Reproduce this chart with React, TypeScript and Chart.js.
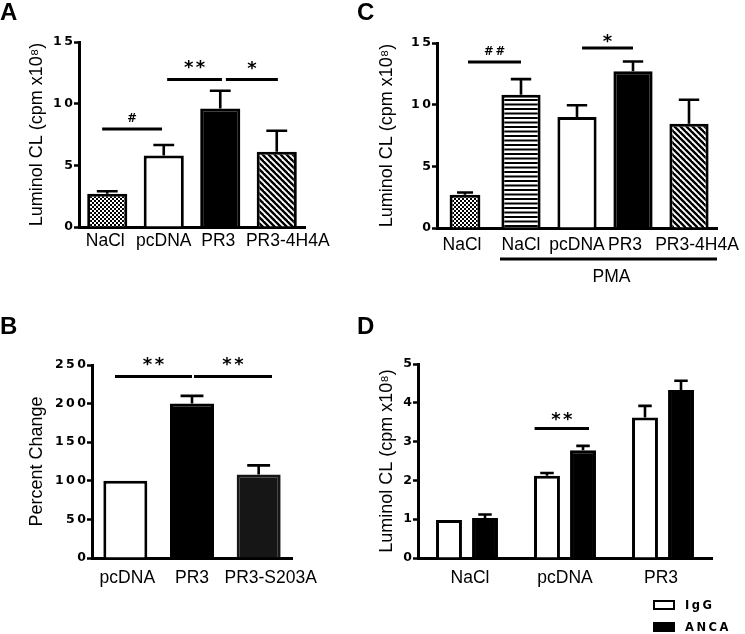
import React, { useEffect, useRef } from 'react';
import { Chart, registerables, LinearScale, CategoryScale } from 'chart.js';

Chart.register(...registerables);

class SpacedLinearScale extends LinearScale {
  static id = 'spacedLinear';
  static defaults = LinearScale.defaults;
  drawLabels(chartArea: any) {
    const ctx: any = (this as any).ctx;
    ctx.save();
    ctx.letterSpacing = '2.5px';
    // @ts-ignore
    super.drawLabels(chartArea);
    ctx.restore();
  }
}

class ShiftedCategoryScale extends CategoryScale {
  static id = 'shiftedCategory';
  static defaults = CategoryScale.defaults;
  _computeLabelItems(chartArea: any) {
    // @ts-ignore
    const items = super._computeLabelItems(chartArea);
    const shifts: number[] = (this as any).$labelShifts || [];
    items.forEach((it: any, i: number) => {
      const s = shifts[i] || 0;
      if (!s) return;
      if (it.options && Array.isArray(it.options.translation)) it.options.translation[0] += s;
    });
    return items;
  }
}
Chart.register(SpacedLinearScale as any, ShiftedCategoryScale as any);

const SANS = "'Liberation Sans', Arial, Helvetica, sans-serif";
const WIDE = "'DejaVu Sans', Verdana, sans-serif";
Chart.defaults.font.family = SANS;
Chart.defaults.color = '#000';

// ---------- Panel A ----------
const aCategories = ['NaCl', 'pcDNA', 'PR3', 'PR3-4H4A'];
const aValues = [2.7, 5.8, 9.6, 6.1];
const aErrors = [0.2, 0.85, 1.45, 1.7];
const aSigFrom = [-0.09, 1.06, 2.1];
const aSigTo = [0.97, 2.03, 3.02];
const aSigLevel = [7.95, 11.95, 11.95];
const aSigText = ['#', '**', '*'];

// ---------- Panel B ----------
const bCategories = ['pcDNA', 'PR3', 'PR3-S203A'];
const bValues = [100, 200, 108];
const bErrors = [0, 10, 12];
const bSigFrom = [-0.155, 1.03];
const bSigTo = [1.0, 2.2];
const bSigLevel = [235, 235];
const bSigText = ['**', '**'];

// ---------- Panel C ----------
const cCategories = ['NaCl', 'NaCl', 'pcDNA', 'PR3', 'PR3-4H4A'];
const cValues = [2.7, 10.8, 9.0, 12.7, 8.45];
const cErrors = [0.18, 1.27, 0.95, 0.8, 1.95];
const cSigFrom = [0.054, 2.09];
const cSigTo = [1.0, 3.0];
const cSigLevel = [13.46, 14.6];
const cSigText = ['##', '*'];
const cGroupLabel = 'PMA';
const cGroupFrom = 0.625;
const cGroupTo = 4.5;

// ---------- Panel D ----------
const dCategories = ['NaCl', 'pcDNA', 'PR3'];
const dSeriesNames = ['IgG', 'ANCA'];
const dIgG = [0.98, 2.12, 3.62];
const dIgGErr = [0, 0.07, 0.3];
const dAnca = [1.03, 2.78, 4.33];
const dAncaErr = [0.09, 0.11, 0.24];
const dSigFrom = [0.69];
const dSigTo = [1.245];
const dSigLevel = [3.34];
const dSigText = ['**'];

const Y_TITLE_CL = 'Luminol CL (cpm x10\u2078)';

function makeFill(kind: string): any {
  if (kind === 'white') return '#ffffff';
  if (kind === 'black') return '#000000';
  if (kind === 'dark') return '#161616';
  const c = document.createElement('canvas');
  const g = c.getContext('2d')!;
  if (kind === 'checker') {
    c.width = 4; c.height = 4;
    g.fillStyle = '#000'; g.fillRect(0, 0, 4, 4);
    g.fillStyle = '#fff'; g.fillRect(0, 0, 2, 2); g.fillRect(2, 2, 2, 2);
  } else if (kind === 'hstripe') {
    c.width = 4; c.height = 9;
    g.fillStyle = '#fff'; g.fillRect(0, 0, 4, 9);
    g.fillStyle = '#000'; g.fillRect(0, 0, 4, 2); g.fillRect(0, 4.5, 4, 2);
  } else if (kind === 'diag') {
    c.width = 6; c.height = 6;
    g.fillStyle = '#fff'; g.fillRect(0, 0, 6, 6);
    g.strokeStyle = '#000'; g.lineWidth = 2.4;
    for (const k of [-6, 0, 6]) {
      g.beginPath(); g.moveTo(-2, -2 + k); g.lineTo(8, 8 + k); g.stroke();
    }
  }
  return g.createPattern(c, 'repeat');
}

const errorBarPlugin = {
  id: 'errorBars',
  afterDatasetsDraw(chart: any, _a: any, opts: any) {
    const errs = opts && opts.errors;
    if (!errs) return;
    const ctx = chart.ctx;
    const ys = chart.scales.y;
    ctx.save();
    ctx.strokeStyle = '#000';
    ctx.lineWidth = 2.6;
    chart.data.datasets.forEach((ds: any, di: number) => {
      const e = errs[di];
      if (!e) return;
      const meta = chart.getDatasetMeta(di);
      meta.data.forEach((bar: any, i: number) => {
        const v = ds.data[i];
        if (v == null || !e[i]) return;
        const p = bar.getProps(['x', 'y', 'width'], true);
        const yt = ys.getPixelForValue(v + e[i]);
        const cap = p.width * 0.26;
        ctx.beginPath();
        ctx.moveTo(p.x, p.y);
        ctx.lineTo(p.x, yt);
        ctx.moveTo(p.x - cap, yt);
        ctx.lineTo(p.x + cap, yt);
        ctx.stroke();
      });
    });
    ctx.restore();
  },
};

const sigPlugin = {
  id: 'sig',
  afterDraw(chart: any, _a: any, opts: any) {
    const ctx = chart.ctx;
    const xs = chart.scales.x;
    const ys = chart.scales.y;
    ctx.save();
    ctx.strokeStyle = '#000';
    ctx.fillStyle = '#000';
    const br = (opts && opts.brackets) || [];
    for (const b of br) {
      const x1 = xs.getPixelForValue(b.from);
      const x2 = xs.getPixelForValue(b.to);
      const yy = ys.getPixelForValue(b.level);
      ctx.lineWidth = 3;
      ctx.beginPath(); ctx.moveTo(x1, yy); ctx.lineTo(x2, yy); ctx.stroke();
      const isStar = b.text.indexOf('*') >= 0;
      ctx.font = isStar ? `bold 18px ${WIDE}` : `bold 11.5px ${WIDE}`;
      const sp = isStar ? 2.5 : 2;
      ctx.letterSpacing = `${sp}px`;
      ctx.textAlign = 'center';
      ctx.textBaseline = 'alphabetic';
      const m = ctx.measureText(b.text);
      const cy = yy - b.dy;
      const base = cy + (m.actualBoundingBoxAscent - m.actualBoundingBoxDescent) / 2;
      ctx.fillText(b.text, (x1 + x2) / 2 + sp / 2, base);
      ctx.letterSpacing = '0px';
    }
    const g = opts && opts.group;
    if (g) {
      const x1 = xs.getPixelForValue(g.from);
      const x2 = xs.getPixelForValue(g.to);
      const yy = chart.chartArea.bottom + 31;
      ctx.lineWidth = 3;
      ctx.beginPath(); ctx.moveTo(x1, yy); ctx.lineTo(x2, yy); ctx.stroke();
      ctx.font = `17.5px ${SANS}`;
      ctx.textAlign = 'center';
      ctx.textBaseline = 'middle';
      ctx.fillText(g.text, (x1 + x2) / 2 + 3, yy + 18);
    }
    ctx.restore();
  },
};

function brackets(from: number[], to: number[], level: number[], text: string[], dy: number[]) {
  return from.map((f, i) => ({ from: f, to: to[i], level: level[i], text: text[i], dy: dy[i] }));
}

function buildChart(canvas: HTMLCanvasElement, cfg: any) {
  return new Chart(canvas, {
    type: 'bar',
    data: { labels: cfg.labels, datasets: cfg.datasets },
    plugins: [errorBarPlugin, sigPlugin],
    options: {
      responsive: false,
      animation: false,
      events: [],
      layout: { padding: { top: cfg.padTop, right: cfg.padRight, left: 0, bottom: 0 } },
      plugins: {
        legend: { display: false },
        tooltip: { enabled: false },
        errorBars: { errors: cfg.errors },
        sig: { brackets: cfg.brackets, group: cfg.group },
      },
      scales: {
        x: {
          type: 'shiftedCategory',
          offset: true,
          grid: { display: false, drawTicks: false },
          border: { display: true, color: '#000', width: 3 },
          ticks: {
            color: '#000',
            font: { size: 17.5, family: SANS },
            padding: cfg.xPad,
            maxRotation: 0,
            minRotation: 0,
            autoSkip: false,
          },
          afterFit: (s: any) => { s.height = cfg.xHeight; s.$labelShifts = cfg.labelShifts; },
        },
        y: {
          type: 'spacedLinear',
          min: 0,
          max: cfg.yMax,
          grid: {
            drawOnChartArea: false,
            drawTicks: true,
            tickLength: 5,
            tickWidth: 2.5,
            tickColor: '#000',
            color: '#000',
          },
          border: { display: true, color: '#000', width: 3 },
          ticks: {
            stepSize: cfg.yStep,
            color: '#000',
            font: { size: 12.5, weight: 'bold', family: WIDE },
            padding: -1.5,
          },
          title: {
            display: true,
            text: cfg.title,
            color: '#000',
            font: { size: 18, family: SANS },
            padding: { top: 26, bottom: 0 },
          },
          afterFit: (s: any) => { s.width = cfg.yWidth; },
        },
      },
    } as any,
  });
}

function chartA(canvas: HTMLCanvasElement) {
  const fills = ['checker', 'white', 'black', 'diag'].map(makeFill);
  return buildChart(canvas, {
    labels: aCategories,
    datasets: [{
      data: aValues,
      backgroundColor: fills,
      borderColor: '#000',
      borderWidth: 3,
      barPercentage: 0.71,
      categoryPercentage: 1,
    }],
    errors: [aErrors],
    brackets: brackets(aSigFrom, aSigTo, aSigLevel, aSigText, [11.5, 15, 14]),
    labelShifts: [-2, 0, -2, 11],
    yMax: 15, yStep: 5, title: Y_TITLE_CL,
    yWidth: 79, xHeight: 73, padTop: 42, padRight: 40, xPad: 4,
  });
}

function chartB(canvas: HTMLCanvasElement) {
  const fills = ['white', 'black', 'dark'].map(makeFill);
  return buildChart(canvas, {
    labels: bCategories,
    datasets: [{
      data: bValues,
      backgroundColor: fills,
      borderColor: ['#000', '#000', '#161616'],
      borderWidth: 3,
      barPercentage: 0.66,
      categoryPercentage: 1,
    }],
    errors: [bErrors],
    brackets: brackets(bSigFrom, bSigTo, bSigLevel, bSigText, [15, 15]),
    labelShifts: [2, 0, 12],
    yMax: 250, yStep: 50, title: 'Percent Change',
    yWidth: 92, xHeight: 76, padTop: 65, padRight: 53, xPad: 9.5,
  });
}

function chartC(canvas: HTMLCanvasElement) {
  const fills = ['checker', 'hstripe', 'white', 'black', 'diag'].map(makeFill);
  const first = cValues.map((v, i) => (i === 0 ? v : null));
  const rest = cValues.map((v, i) => (i === 0 ? null : v));
  return buildChart(canvas, {
    labels: cCategories,
    datasets: [
      {
        data: first,
        backgroundColor: fills,
        borderColor: '#000',
        borderWidth: 3,
        barPercentage: 0.55,
        categoryPercentage: 1,
        grouped: false,
      },
      {
        data: rest,
        backgroundColor: fills,
        borderColor: '#000',
        borderWidth: 3,
        barPercentage: 0.7,
        categoryPercentage: 1,
        grouped: false,
      },
    ],
    errors: [
      cErrors.map((e, i) => (i === 0 ? e : 0)),
      cErrors.map((e, i) => (i === 0 ? 0 : e)),
    ],
    brackets: brackets(cSigFrom, cSigTo, cSigLevel, cSigText, [11, 9]),
    group: { from: cGroupFrom, to: cGroupTo, text: cGroupLabel },
    labelShifts: [-3, 0, 0, -8, 8],
    yMax: 15, yStep: 5, title: Y_TITLE_CL,
    yWidth: 87, xHeight: 72, padTop: 43, padRight: 28, xPad: 6.5,
  });
}

function chartD(canvas: HTMLCanvasElement) {
  return buildChart(canvas, {
    labels: dCategories,
    datasets: [
      {
        label: dSeriesNames[0],
        data: dIgG,
        backgroundColor: '#fff',
        borderColor: '#000',
        borderWidth: 3,
        barPercentage: 0.72,
        categoryPercentage: 0.735,
      },
      {
        label: dSeriesNames[1],
        data: dAnca,
        backgroundColor: '#000',
        borderColor: '#000',
        borderWidth: 3,
        barPercentage: 0.72,
        categoryPercentage: 0.735,
      },
    ],
    errors: [dIgGErr, dAncaErr],
    brackets: brackets(dSigFrom, dSigTo, dSigLevel, dSigText, [11.6]),
    labelShifts: [3, 0, -2],
    yMax: 5, yStep: 1, title: Y_TITLE_CL,
    yWidth: 68, xHeight: 76, padTop: 64, padRight: 33, xPad: 9.5,
  });
}

function Panel(props: { left: number; top: number; width: number; height: number; build: (c: HTMLCanvasElement) => any }) {
  const ref = useRef<HTMLCanvasElement>(null);
  useEffect(() => {
    const chart = props.build(ref.current!);
    return () => chart.destroy();
  }, []);
  return (
    <div style={{ position: 'absolute', left: props.left, top: props.top, width: props.width, height: props.height }}>
      <canvas ref={ref} width={props.width} height={props.height} style={{ display: 'block', width: props.width, height: props.height }} />
    </div>
  );
}

const letterStyle = (left: number, top: number): React.CSSProperties => ({
  position: 'absolute', left, top, font: `bold 24px ${SANS}`, lineHeight: '24px', color: '#000',
});

const legendText = (top: number): React.CSSProperties => ({
  position: 'absolute', left: 685, top, font: `bold 11.5px ${WIDE}`, lineHeight: '12px', letterSpacing: '2.5px', color: '#000',
});

export default function App() {
  return (
    <div style={{ position: 'absolute', left: 0, top: 0, width: 745, height: 634, background: '#fff', overflow: 'hidden' }}>
      <Panel left={0} top={0} width={345} height={300} build={chartA} />
      <Panel left={0} top={300} width={345} height={334} build={chartB} />
      <Panel left={350} top={0} width={395} height={300} build={chartC} />
      <Panel left={350} top={300} width={395} height={334} build={chartD} />
      <div style={letterStyle(0, 0)}>A</div>
      <div style={letterStyle(0, 314)}>B</div>
      <div style={letterStyle(357, 0)}>C</div>
      <div style={letterStyle(357, 314)}>D</div>
      <div style={{ position: 'absolute', left: 653, top: 600, width: 22, height: 10, boxSizing: 'border-box', border: '2.5px solid #000', background: '#fff' }} />
      <div style={{ position: 'absolute', left: 653, top: 622, width: 22, height: 10, background: '#000' }} />
      <div style={legendText(599)}>{dSeriesNames[0]}</div>
      <div style={legendText(621)}>{dSeriesNames[1]}</div>
    </div>
  );
}
